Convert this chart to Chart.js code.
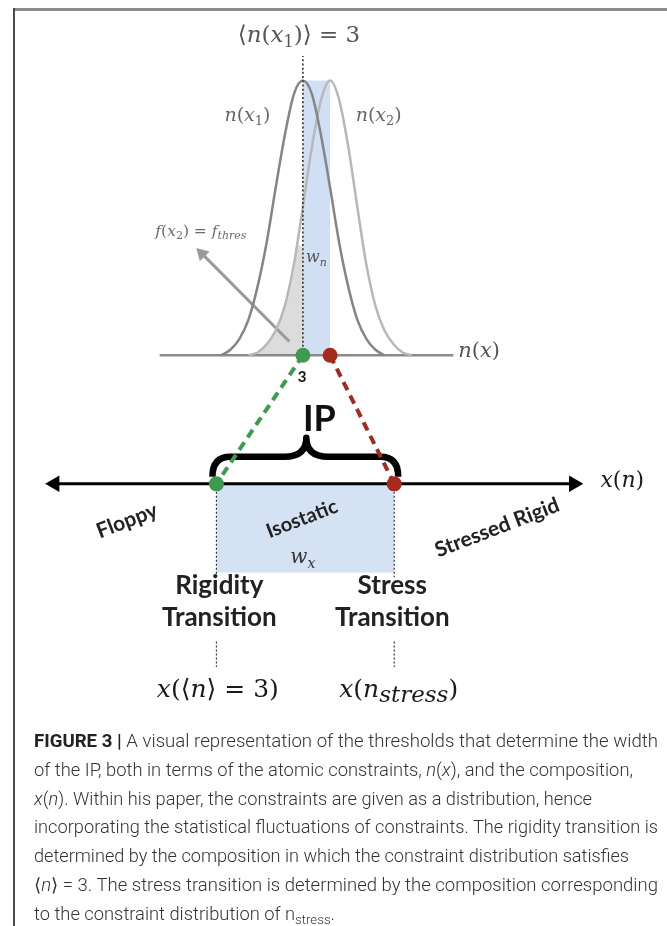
<!DOCTYPE html>
<html>
<head>
<meta charset="utf-8">
<script src="https://cdn.jsdelivr.net/npm/chart.js@4.4.1/dist/chart.umd.min.js"></script>
<style>
  html, body { margin: 0; padding: 0; background: #fff; }
  body { width: 667px; height: 926px; position: relative; overflow: hidden; }
  #frameTop { position: absolute; left: 14px; top: 8px; width: 653px; height: 3px; background: #8c8c8c; }
  #frameLeft { position: absolute; left: 13px; top: 8px; width: 2px; height: 918px; background: #4a4a4a; }
  #plot { position: absolute; left: 0; top: 0; }
  #caption { position: absolute; left: 34px; top: 727px; font-family: Roboto, "Liberation Sans", sans-serif;
             font-weight: 300; font-size: 18px; line-height: 28.8px; color: #333; }
  #caption .ln { white-space: nowrap; transform-origin: 0 50%; height: 28.8px; }
  #caption b { font-weight: 700; color: #222; }
  #caption sub { font-size: 13px; vertical-align: -4px; line-height: 0; }
</style>
</head>
<body>
<div id="frameTop"></div>
<div id="frameLeft"></div>
<canvas id="plot" width="667" height="730"></canvas>
<div id="caption">
  <div class="ln" data-w="624"><b>FIGURE 3 |</b> A visual representation of the thresholds that determine the width</div>
  <div class="ln" data-w="599">of the IP, both in terms of the atomic constraints, <i>n</i>(<i>x</i>), and the composition,</div>
  <div class="ln" data-w="558"><i>x</i>(<i>n</i>). Within his paper, the constraints are given as a distribution, hence</div>
  <div class="ln" data-w="624">incorporating the statistical fluctuations of constraints. The rigidity transition is</div>
  <div class="ln" data-w="595">determined by the composition in which the constraint distribution satisfies</div>
  <div class="ln" data-w="624">⟨<i>n</i>⟩ = 3. The stress transition is determined by the composition corresponding</div>
  <div class="ln" data-w="301">to the constraint distribution of n<sub>stress</sub>.</div>
</div>
<script>
// ---------- values ----------
const N_MEAN = 3.0;      // ⟨n(x1)⟩ = 3
const N_SHIFTED = 3.3;   // mean of n(x2), i.e. n_stress

// constraint distribution n(x1): sample positions and normalised density
const N1_AT   = [2.1, 2.2, 2.3, 2.4, 2.5, 2.6, 2.7, 2.8, 2.9, 3.0, 3.1, 3.2, 3.3, 3.4, 3.5, 3.6, 3.7, 3.8, 3.9];
const N1_DENS = [0.00, 0.02, 0.06, 0.13, 0.25, 0.41, 0.61, 0.80, 0.95, 1.00, 0.95, 0.80, 0.61, 0.41, 0.25, 0.13, 0.06, 0.02, 0.00];
// constraint distribution n(x2)
const N2_AT   = [2.4, 2.5, 2.6, 2.7, 2.8, 2.9, 3.0, 3.1, 3.2, 3.3, 3.4, 3.5, 3.6, 3.7, 3.8, 3.9, 4.0, 4.1, 4.2];
const N2_DENS = [0.00, 0.01, 0.04, 0.09, 0.18, 0.33, 0.54, 0.76, 0.93, 1.00, 0.93, 0.76, 0.54, 0.33, 0.18, 0.09, 0.04, 0.01, 0.00];
// shaded tail of n(x2) below ⟨n⟩ = 3 (f(x2) = f_thres)
const TAIL_AT   = [2.4, 2.5, 2.6, 2.7, 2.8, 2.9, 2.94, 3.0];
const TAIL_DENS = [0.00, 0.01, 0.04, 0.09, 0.18, 0.33, 0.40, 0.40];
const N_AXIS = [1.42, 4.66];       // extent of the n(x) baseline
const N_MARK_TOP = 1.09;           // top of the ⟨n⟩ = 3 marker
const ARROW_N = [2.85, 1.886];     // f_thres pointer (n)
const ARROW_D = [0.05, 0.37];      // f_thres pointer (density)

// composition axis x(n)
const X_RIGID = 0.20;              // rigidity transition, x(⟨n⟩ = 3)
const X_STRESS = 0.30;             // stress transition, x(n_stress)
const X_AXIS = [0.109, 0.401];     // extent of the x(n) axis
const ISO_DEPTH = -0.91;           // depth of the isostatic band
const GUIDE_UPPER = [0, -0.96];
const GUIDE_LOWER = [-1.62, -1.88];

// ---------- layout ----------
const W = 667, H = 730;
function span(v0, p0, v1, p1, size) {
  const k = (p1 - p0) / (v1 - v0);
  const a = v0 - p0 / k, b = v0 + (size - p0) / k;
  return { min: Math.min(a, b), max: Math.max(a, b) };
}
const hidden = { display: false, bounds: 'data', grid: { display: false }, ticks: { display: false } };
const scales = {
  x:  Object.assign({ type: 'linear', min: 0, max: 1 }, hidden),
  y:  Object.assign({ type: 'linear', min: 0, max: 1 }, hidden),
  xN: Object.assign({ type: 'linear', axis: 'x', position: 'bottom' }, hidden, span(N_MEAN, 302, N_SHIFTED, 330, W)),
  yN: Object.assign({ type: 'linear', axis: 'y', position: 'left' }, hidden, span(0, 355, 1, 73, H)),
  xC: Object.assign({ type: 'linear', axis: 'x', position: 'top' }, hidden, span(X_RIGID, 213, X_STRESS, 396, W)),
  yC: Object.assign({ type: 'linear', axis: 'y', position: 'right' }, hidden, span(0, 487, 1, 387, H)),
};

const pts = (xs, ys) => xs.map((v, i) => ({ x: v, y: ys[i] }));
const onN = { xAxisID: 'xN', yAxisID: 'yN' };
const onC = { xAxisID: 'xC', yAxisID: 'yC' };
const lineBase = { showLine: true, pointRadius: 0, fill: false, borderWidth: 2.5 };
const guide = (x, upper, lower) => [{ x, y: upper[0] }, { x, y: upper[1] }, { x, y: null }, { x, y: lower[0] }, { x, y: lower[1] }];

const GREEN = '#3d9a4f', RED = '#a5291d';

const datasets = [
  // dots on the n(x) baseline
  Object.assign({ data: [{ x: N_MEAN, y: 0 }], pointRadius: 7.5, pointBackgroundColor: GREEN, pointBorderWidth: 0, showLine: false, order: 0 }, onN),
  Object.assign({ data: [{ x: N_SHIFTED, y: 0 }], pointRadius: 7.5, pointBackgroundColor: RED, pointBorderWidth: 0, showLine: false, order: 0 }, onN),
  // dots on the composition axis
  Object.assign({ data: [{ x: X_RIGID, y: 0 }], pointRadius: 7.5, pointBackgroundColor: GREEN, pointBorderWidth: 0, showLine: false, order: 0 }, onC),
  Object.assign({ data: [{ x: X_STRESS, y: 0 }], pointRadius: 7.5, pointBackgroundColor: RED, pointBorderWidth: 0, showLine: false, order: 0 }, onC),
  // x(n) axis with arrow heads
  Object.assign({}, lineBase, { data: pts(X_AXIS, [0, 0]), borderColor: '#000', borderWidth: 3,
    pointRadius: 9.5, pointStyle: 'triangle', pointRotation: [-90, 90], pointBackgroundColor: '#000', pointBorderWidth: 0, order: 1 }, onC),
  // ⟨n⟩ = 3 marker
  Object.assign({}, lineBase, { data: pts([N_MEAN, N_MEAN], [0, N_MARK_TOP]), borderColor: '#333', borderWidth: 1.6, borderDash: [2, 2.2], order: 2 }, onN),
  // n(x1) and n(x2)
  Object.assign({}, lineBase, { data: pts(N1_AT, N1_DENS), borderColor: '#858585', cubicInterpolationMode: 'monotone', order: 3 }, onN),
  Object.assign({}, lineBase, { data: pts(N2_AT, N2_DENS), borderColor: '#b8b8b8', cubicInterpolationMode: 'monotone', order: 4 }, onN),
  // n(x) baseline
  Object.assign({}, lineBase, { data: pts(N_AXIS, [0, 0]), borderColor: '#8a8a8a', order: 5 }, onN),
  // f_thres pointer
  Object.assign({}, lineBase, { data: pts(ARROW_N, ARROW_D), borderColor: '#9a9a9a', borderWidth: 3,
    pointRadius: [0, 8], pointStyle: 'triangle', pointRotation: [0, -45], pointBackgroundColor: '#9a9a9a', pointBorderWidth: 0, order: 5 }, onN),
  // guide lines under the transitions
  Object.assign({}, lineBase, { data: guide(X_RIGID, GUIDE_UPPER, GUIDE_LOWER), spanGaps: false, borderColor: '#333', borderWidth: 1.2, borderDash: [2, 2], order: 6 }, onC),
  Object.assign({}, lineBase, { data: guide(X_STRESS, GUIDE_UPPER, GUIDE_LOWER), spanGaps: false, borderColor: '#333', borderWidth: 1.2, borderDash: [2, 2], order: 6 }, onC),
  // shaded tail of n(x2)
  Object.assign({}, lineBase, { data: pts(TAIL_AT, TAIL_DENS), borderWidth: 0, fill: 'origin', backgroundColor: '#dcdcdc', cubicInterpolationMode: 'monotone', order: 8 }, onN),
  // w_n band
  Object.assign({}, lineBase, { data: pts([N_MEAN, N_SHIFTED], [1, 1]), borderWidth: 0, fill: 'origin', backgroundColor: '#d0dff3', order: 9 }, onN),
  // isostatic band w_x
  Object.assign({}, lineBase, { data: pts([X_RIGID, X_STRESS], [0, 0]), borderWidth: 0, fill: { value: ISO_DEPTH }, backgroundColor: '#d5e2f4', order: 9 }, onC),
];

// ---------- annotations ----------
const MATH = '"DejaVu Serif", serif';
const SANS = 'Lato, "Open Sans", sans-serif';
const LABELS = [
  { on: 'N', x: 2.957, y: 1.167, size: 23, color: '#555', runs: [['⟨', 'r'], ['n', 'i'], ['(', 'r'], ['x', 'i'], ['1', 'sr'], [')⟩ = 3', 'r']] },
  { on: 'N', x: 2.389, y: 0.876, size: 19, color: '#666', runs: [['n', 'i'], ['(', 'r'], ['x', 'i'], ['1', 'sr'], [')', 'r']] },
  { on: 'N', x: 3.836, y: 0.876, size: 19, color: '#666', runs: [['n', 'i'], ['(', 'r'], ['x', 'i'], ['2', 'sr'], [')', 'r']] },
  { on: 'N', x: 1.875, y: 0.454, size: 15.5, color: '#6a6a6a', runs: [['f', 'i'], ['(', 'r'], ['x', 'i'], ['2', 'sr'], [') = ', 'r'], ['f', 'i'], ['thres', 'si']] },
  { on: 'N', x: 3.15, y: 0.358, size: 16, color: '#555', runs: [['w', 'i'], ['n', 'si']] },
  { on: 'N', x: 4.714, y: 0.018, size: 21, color: '#555', align: 'left', runs: [['n', 'i'], ['(', 'r'], ['x', 'i'], [')', 'r']] },
  { on: 'C', x: 0.416, y: 0.04, size: 22, color: '#1a1a1a', align: 'left', runs: [['x', 'i'], ['(', 'r'], ['n', 'i'], [')', 'r']] },
  { on: 'C', x: 0.2486, y: -0.75, size: 20, color: '#333', runs: [['w', 'i'], ['x', 'si']] },
  { on: 'C', x: 0.2008, y: -2.10, size: 25, color: '#1a1a1a', runs: [['x', 'i'], ['(⟨', 'r'], ['n', 'i'], ['⟩ = 3)', 'r']] },
  { on: 'C', x: 0.3025, y: -2.10, size: 25, sub: 0.92, color: '#1a1a1a', runs: [['x', 'i'], ['(', 'r'], ['n', 'i'], ['stress', 'si'], [')', 'r']] },
];
const WORDS = [
  { on: 'N', x: 2.99, y: -0.078, size: 15, weight: 700, color: '#111', text: '3' },
  { on: 'C', x: 0.2579, y: 0.66, size: 36, weight: 700, color: '#111', text: 'IP' },
  { on: 'C', x: 0.1497, y: -0.38, size: 21, weight: 700, color: '#222', text: 'Floppy', rot: -21 },
  { on: 'C', x: 0.2481, y: -0.36, size: 20, weight: 700, color: '#222', text: 'Isostatic', rot: -21 },
  { on: 'C', x: 0.3579, y: -0.45, size: 21, weight: 700, color: '#222', text: 'Stressed Rigid', rot: -21 },
  { on: 'C', x: 0.2016, y: -1.04, size: 26, weight: 700, color: '#222', text: 'Rigidity' },
  { on: 'C', x: 0.2016, y: -1.37, size: 26, weight: 700, color: '#222', text: 'Transition' },
  { on: 'C', x: 0.2989, y: -1.04, size: 26, weight: 700, color: '#222', text: 'Stress' },
  { on: 'C', x: 0.2989, y: -1.37, size: 26, weight: 700, color: '#222', text: 'Transition' },
];

function place(chart, on, x, y) {
  const sx = chart.scales['x' + on], sy = chart.scales['y' + on];
  return [sx.getPixelForValue(x), sy.getPixelForValue(y)];
}

function drawRuns(ctx, runs, x, y, size, color, align, sub) {
  const subSize = Math.round(size * (sub || 0.7));
  const fontFor = k => (k.endsWith('i') ? 'italic ' : '') + (k[0] === 's' ? subSize : size) + 'px ' + MATH;
  const widths = runs.map(([t, k]) => { ctx.font = fontFor(k); return ctx.measureText(t).width; });
  const total = widths.reduce((a, b) => a + b, 0);
  let cx = align === 'left' ? x : x - total / 2;
  ctx.fillStyle = color;
  ctx.textAlign = 'left';
  ctx.textBaseline = 'alphabetic';
  const base = y + size * 0.33;
  runs.forEach(([t, k], i) => {
    ctx.font = fontFor(k);
    ctx.fillText(t, cx, base + (k[0] === 's' ? size * 0.22 : 0));
    cx += widths[i];
  });
}

const diagramPlugin = {
  id: 'diagram',
  beforeDatasetsDraw(chart) {
    const ctx = chart.ctx;
    // curly brace over the isostatic window
    const [l, yAxis] = place(chart, 'C', X_RIGID, 0);
    const [r] = place(chart, 'C', X_STRESS, 0);
    const L = l - 4, R = r + 4, M = (L + R) / 2 + 1;
    const yBase = yAxis - 7, yMid = yAxis - 27, yTip = yAxis - 46;
    ctx.save();
    ctx.strokeStyle = '#000';
    ctx.lineWidth = 6.5;
    ctx.lineJoin = 'round';
    ctx.beginPath();
    ctx.moveTo(L, yBase);
    ctx.quadraticCurveTo(L, yMid, L + 18, yMid);
    ctx.lineTo(M - 22, yMid);
    ctx.quadraticCurveTo(M, yMid, M, yTip);
    ctx.quadraticCurveTo(M, yMid, M + 22, yMid);
    ctx.lineTo(R - 18, yMid);
    ctx.quadraticCurveTo(R, yMid, R, yBase);
    ctx.stroke();
    // dashed projections from n(x) onto x(n)
    ctx.lineWidth = 4;
    ctx.setLineDash([9, 6]);
    [[N_MEAN, X_RIGID, GREEN], [N_SHIFTED, X_STRESS, RED]].forEach(([n, xc, col]) => {
      const [x0, y0] = place(chart, 'N', n, 0);
      const [x1, y1] = place(chart, 'C', xc, 0);
      ctx.strokeStyle = col;
      ctx.beginPath();
      ctx.moveTo(x0, y0);
      ctx.lineTo(x1, y1);
      ctx.stroke();
    });
    ctx.restore();
  },
  afterDatasetsDraw(chart) {
    const ctx = chart.ctx;
    ctx.save();
    LABELS.forEach(lb => {
      const [px, py] = place(chart, lb.on, lb.x, lb.y);
      drawRuns(ctx, lb.runs, px, py, lb.size, lb.color, lb.align, lb.sub);
    });
    WORDS.forEach(w => {
      const [px, py] = place(chart, w.on, w.x, w.y);
      ctx.save();
      ctx.translate(px, py);
      if (w.rot) ctx.rotate(w.rot * Math.PI / 180);
      ctx.font = w.weight + ' ' + w.size + 'px ' + SANS;
      ctx.fillStyle = w.color;
      ctx.textAlign = 'center';
      ctx.textBaseline = 'middle';
      ctx.fillText(w.text, 0, 0);
      ctx.restore();
    });
    ctx.restore();
  }
};

new Chart(document.getElementById('plot'), {
  type: 'scatter',
  data: { datasets },
  options: {
    responsive: false,
    animation: false,
    devicePixelRatio: 1,
    events: [],
    layout: { padding: 0 },
    scales,
    plugins: { legend: { display: false }, tooltip: { enabled: false } },
  },
  plugins: [diagramPlugin],
});

// fit each caption line to its column width
document.querySelectorAll('#caption .ln').forEach(el => {
  const inner = document.createElement('span');
  inner.innerHTML = el.innerHTML;
  el.innerHTML = '';
  el.appendChild(inner);
  const w = inner.getBoundingClientRect().width;
  el.style.transform = 'scaleX(' + (parseFloat(el.dataset.w) / w) + ')';
});
</script>
</body>
</html>
